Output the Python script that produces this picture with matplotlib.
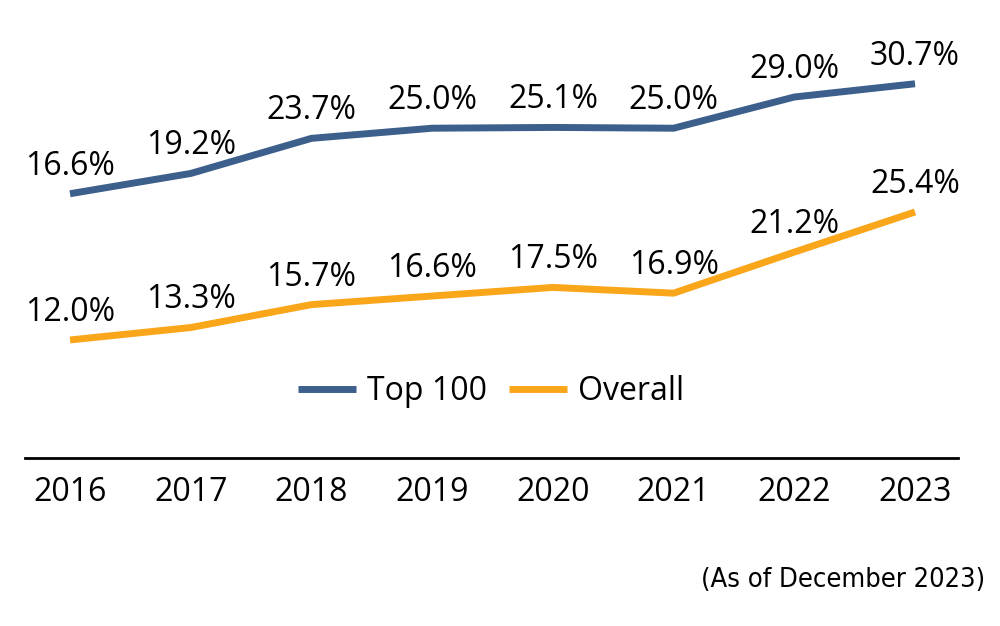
import matplotlib.pyplot as plt

plt.rcParams['font.family'] = ['Open Sans', 'DejaVu Sans']

years = [2016, 2017, 2018, 2019, 2020, 2021, 2022, 2023]
top100 = [16.6, 19.2, 23.7, 25.0, 25.1, 25.0, 29.0, 30.7]
overall = [12.0, 13.3, 15.7, 16.6, 17.5, 16.9, 21.2, 25.4]

blue = '#3C5F8C'
orange = '#F9A61A'

fig = plt.figure(figsize=(10, 6.26), dpi=100)
ax = fig.add_axes([0.025, 0.2684, 0.933, 0.6677])
ax2 = ax.twinx()

l2, = ax.plot(years, overall, color=orange, lw=5, solid_capstyle='butt',
              solid_joinstyle='miter', label='Overall')
l1, = ax2.plot(years, top100, color=blue, lw=5, solid_capstyle='butt',
               solid_joinstyle='miter', label='Top 100')

ax.set_ylim(-0.36, 43.41)
ax2.set_ylim(-17.28, 36.31)
ax.set_xlim(2016 - 0.373, 2023 + 0.356)

for x, v in zip(years, overall):
    ax.annotate(f'{v:.1f}%', (x, v), xytext=(0, 8), textcoords='offset points',
                ha='center', va='bottom', fontsize=23)
for x, v in zip(years, top100):
    ax2.annotate(f'{v:.1f}%', (x, v), xytext=(0, 8), textcoords='offset points',
                 ha='center', va='bottom', fontsize=23)

for a in (ax, ax2):
    for s in ['top', 'left', 'right']:
        a.spines[s].set_visible(False)
    a.set_yticks([])
ax2.spines['bottom'].set_visible(False)
ax.spines['bottom'].set_linewidth(2)
ax.set_xticks(years)
ax.set_xticklabels([str(y) for y in years], fontsize=23)
ax.tick_params(axis='x', length=0, pad=13)

fig.legend([l1, l2], ['Top 100', 'Overall'], loc='center',
           bbox_to_anchor=(0.491, 0.374), ncol=2, frameon=False, fontsize=23,
           handlelength=1.8, handletextpad=0.35, columnspacing=0.7)

fig.text(0.985, 0.073, '(As of December 2023)', ha='right', va='center',
         fontsize=19.5, family='DejaVu Sans', stretch='condensed')

fig.savefig('out.png', dpi=100)
